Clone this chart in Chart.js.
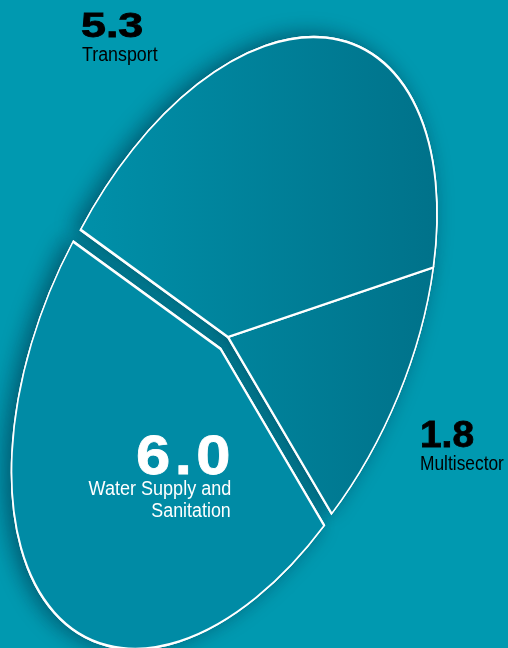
<!DOCTYPE html>
<html><head><meta charset="utf-8">
<script src="https://cdn.jsdelivr.net/npm/chart.js@4.4.1/dist/chart.umd.min.js"></script>
<style>
html,body{margin:0;padding:0;background:#0099b0;width:508px;height:648px;overflow:hidden}
#wrap{position:relative;width:508px;height:648px}
canvas{position:absolute;left:0;top:0}
.t{position:absolute;white-space:nowrap;font-family:"Liberation Sans",Arial,sans-serif;line-height:1.117em}
</style></head><body>
<div id="wrap"><canvas id="c" width="508" height="648"></canvas></div>
<script>
// ---- data ----
const categories = ['Multisector', 'Water Supply and Sanitation', 'Transport'];
const values = [1.8, 6.0, 5.3];
const valueLabels = ['1.8', '6.0', '5.3'];

// ---- styles / geometry ----
const R = 200;                 // pie radius in canvas px (before tilt)
const CX = 228, CY = 337;      // screen position of pie centre
const TILT = {a: 209 / R, b: -122.97 / R, c: 0, d: 273.64 / R};
const ROTATION = 100.8;
const EXPLODE = [0, 9, 0];
const WATER_COLOR = '#008ba5';
const GRAD_L = '#0090a9', GRAD_R = '#00728a';
const GRAD_X0 = 80, GRAD_X1 = 437;

function sliceColor(c) {
  if (c.dataIndex === 1) return WATER_COLOR;
  const area = c.chart.chartArea;
  if (!area) return GRAD_R;
  const p0x = (area.left + area.right) / 2;
  const ux0 = (GRAD_X0 - CX) / TILT.a + p0x;
  const ux1 = (GRAD_X1 - CX) / TILT.a + p0x;
  const g = c.chart.ctx.createLinearGradient(ux0, 0, ux1, 0);
  g.addColorStop(0, GRAD_L);
  g.addColorStop(1, GRAD_R);
  return g;
}

const tiltPlugin = {
  id: 'tilt',
  beforeDatasetsDraw(chart) {
    const ctx = chart.ctx;
    const els = chart.getDatasetMeta(0).data;
    if (!els.length) return;
    const p0x = els[0].x, p0y = els[0].y;
    const e = CX - TILT.a * p0x - TILT.c * p0y;
    const f = CY - TILT.b * p0x - TILT.d * p0y;
    const paint = (shadow) => {
      els.forEach((el, i) => {
        ctx.save();
        ctx.transform(TILT.a, TILT.b, TILT.c, TILT.d, e, f);
        if (EXPLODE[i]) {
          const mid = (el.startAngle + el.endAngle) / 2;
          ctx.translate(Math.cos(mid) * EXPLODE[i], Math.sin(mid) * EXPLODE[i]);
        }
        if (shadow) {
          ctx.shadowColor = 'rgba(0,40,60,0.55)';
          ctx.shadowBlur = 20;
          ctx.shadowOffsetX = -6;
          ctx.shadowOffsetY = -1;
        }
        el.draw(ctx);
        ctx.restore();
      });
    };
    paint(true);
    paint(false);
    return false;
  }
};

new Chart(document.getElementById('c'), {
  type: 'pie',
  data: {
    labels: categories,
    datasets: [{
      data: values,
      backgroundColor: sliceColor,
      borderColor: '#ffffff',
      borderWidth: 1.6,
      borderJoinStyle: 'miter',
      radius: R
    }]
  },
  options: {
    responsive: false,
    animation: false,
    events: [],
    rotation: ROTATION,
    radius: R,
    layout: {padding: 0},
    plugins: {legend: {display: false}, tooltip: {enabled: false}}
  },
  plugins: [tiltPlugin]
});

// ---- labels (real text) ----
const wrap = document.getElementById('wrap');
function addText(txt, o) {
  const d = document.createElement('div');
  d.className = 't';
  d.textContent = txt;
  d.style.fontSize = o.size + 'px';
  d.style.fontWeight = o.bold ? '700' : '400';
  d.style.color = o.color;
  d.style.top = (o.baseline - 0.905 * o.size) + 'px';
  if (o.left !== undefined) { d.style.left = o.left + 'px'; d.style.transformOrigin = 'left center'; }
  else { d.style.right = (508 - o.right) + 'px'; d.style.textAlign = 'right'; d.style.transformOrigin = 'right center'; }
  d.style.transform = 'scaleX(' + (o.sx || 1) + ')';
  if (o.ls) d.style.letterSpacing = o.ls + 'px';
  if (o.stroke) d.style.webkitTextStroke = o.stroke + 'px ' + o.color;
  wrap.appendChild(d);
}
// Transport
addText(valueLabels[2], {size: 35, bold: true, color: '#000', left: 80.5, baseline: 37, sx: 1.28, stroke: 0.8});
addText(categories[2], {size: 19.5, color: '#000', left: 81.5, baseline: 62, sx: 0.915});
// Multisector
addText(valueLabels[0], {size: 36, bold: true, color: '#000', left: 419.5, baseline: 448, sx: 1.08, stroke: 0.8});
addText(categories[0], {size: 19.5, color: '#000', left: 420, baseline: 471, sx: 0.89});
// Water Supply and Sanitation
addText(valueLabels[1], {size: 56, bold: true, color: '#fff', right: 235, baseline: 475, sx: 1.1, ls: 4, stroke: 0.8});
addText('Water Supply and', {size: 19.5, color: '#fff', right: 231.2, baseline: 496, sx: 0.925});
addText('Sanitation', {size: 19.5, color: '#fff', right: 231.2, baseline: 518, sx: 0.915});
</script>
</body></html>
